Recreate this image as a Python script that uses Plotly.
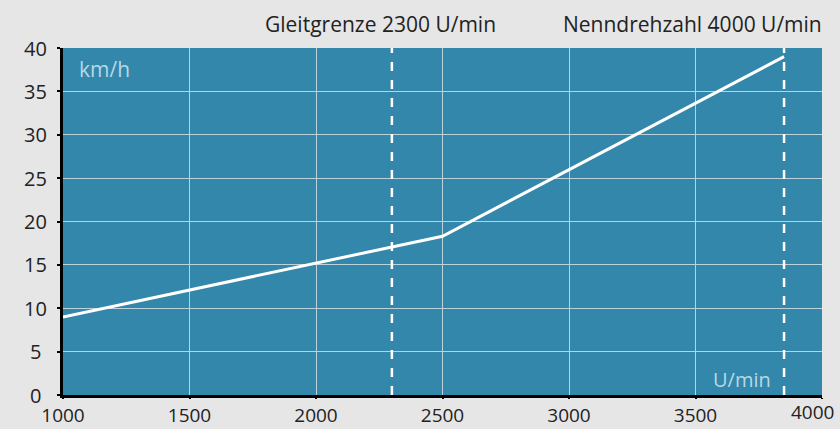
import plotly.graph_objects as go

rpm = [1000, 2500, 3850]
speed = [9.0, 18.3, 39.0]
marker_x = [2300, 3850]
marker_labels = ["Gleitgrenze 2300 U/min", "Nenndrehzahl 4000 U/min"]
x_ticks = [1000, 1500, 2000, 2500, 3000, 3500, 4000]
y_ticks = [0, 5, 10, 15, 20, 25, 30, 35, 40]

FONT = "Open Sans"
TXT = "#222222"
fig = go.Figure()
fig.add_trace(go.Scatter(x=rpm, y=speed, mode="lines",
                         line=dict(color="white", width=3), showlegend=False))

for xv in marker_x:
    fig.add_shape(type="line", xref="x", yref="paper", x0=xv, x1=xv, y0=0, y1=1,
                  line=dict(color="white", width=2.5, dash="9px,9px"))

fig.add_annotation(x=marker_x[0], xref="x", y=1.069, yref="paper", text=marker_labels[0],
                   showarrow=False, xanchor="center", yanchor="middle", xshift=-11,
                   font=dict(family=FONT, size=21, color=TXT))
fig.add_annotation(x=1, xref="paper", y=1.069, yref="paper", text=marker_labels[1],
                   showarrow=False, xanchor="right", yanchor="middle", xshift=2,
                   font=dict(family=FONT, size=21, color=TXT))
fig.add_annotation(x=0.018, xref="paper", y=0.94, yref="paper", text="km/h",
                   showarrow=False, xanchor="left", yanchor="middle",
                   font=dict(family=FONT, size=21, color="#b8d8e6"))
fig.add_annotation(x=0.935, xref="paper", y=0.045, yref="paper", text="U/min",
                   showarrow=False, xanchor="right", yanchor="middle",
                   font=dict(family=FONT, size=20, color="#b8d8e6"))

# y tick labels (centred, as in the reference)
for yv in y_ticks:
    fig.add_annotation(x=0, xref="paper", y=yv, yref="y", text=str(yv),
                       showarrow=False, xanchor="center", yanchor="middle", xshift=-28,
                       font=dict(family=FONT, size=20, color=TXT))

# x tick labels; the last one is kept inside the page
x_text = [str(v) for v in x_ticks[:-1]] + [""]
fig.add_annotation(x=x_ticks[-1], xref="x", y=0, yref="paper", text=str(x_ticks[-1]),
                   showarrow=False, xanchor="right", yanchor="top", xshift=14, yshift=-2,
                   font=dict(family=FONT, size=19, color=TXT))

fig.update_layout(
    width=840, height=429,
    margin=dict(l=63, r=18, t=48, b=34),
    paper_bgcolor="#e6e6e6",
    plot_bgcolor="#3287aa",
    font=dict(family=FONT, size=20, color=TXT),
    xaxis=dict(range=[1000, 4000], tickvals=x_ticks, ticktext=x_text, showgrid=True,
               gridcolor="#bcd3dd", gridwidth=1, zeroline=False, automargin=False,
               showline=True, linecolor="black", linewidth=3,
               tickfont=dict(family=FONT, size=19, color=TXT),
               ticks="outside", ticklen=1, tickcolor="black", tickwidth=2),
    yaxis=dict(range=[0, 40], tickvals=y_ticks, showticklabels=False, showgrid=True,
               gridcolor="#bcd3dd", gridwidth=1, zeroline=False, automargin=False,
               showline=True, linecolor="black", linewidth=3,
               ticks="outside", ticklen=3, tickcolor="black", tickwidth=2),
)
fig.write_html(
    "out.html",
    config={"displayModeBar": False},
    post_script="document.body.style.margin='0';document.body.style.overflow='hidden';"
                "document.body.style.background='#e6e6e6';",
)
